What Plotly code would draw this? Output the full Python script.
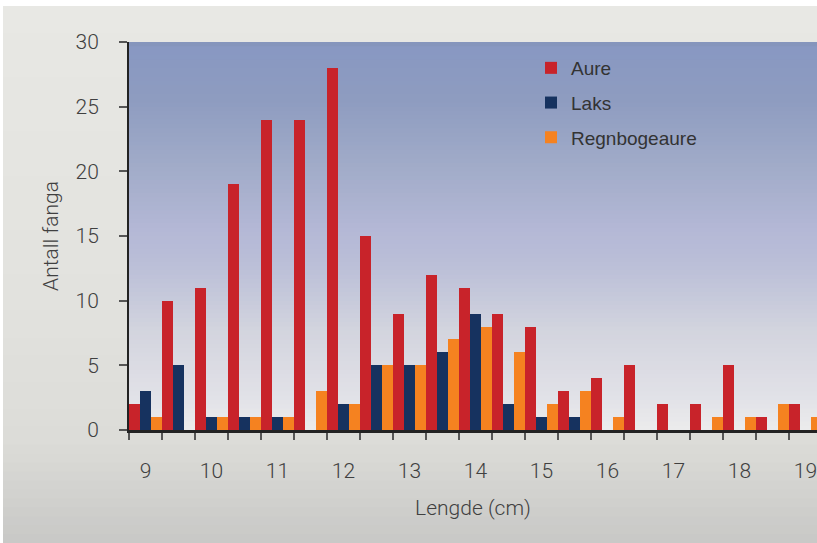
import plotly.graph_objects as go

# ---- data ----
lengths = [9, 9.5, 10, 10.5, 11, 11.5, 12, 12.5, 13, 13.5, 14, 14.5, 15, 15.5,
           16, 16.5, 17, 17.5, 18, 18.5, 19]
aure = [2, 10, 11, 19, 24, 24, 28, 15, 9, 12, 11, 9, 8, 3, 4, 5, 2, 2, 5, 1, 2]
laks = [3, 5, 1, 1, 1, 0, 2, 5, 5, 6, 9, 2, 1, 1, 0, 0, 0, 0, 0, 0, 0]
regnbogeaure = [1, 0, 1, 1, 1, 3, 2, 5, 5, 7, 8, 6, 2, 3, 1, 0, 0, 1, 1, 2, 1]
tick_labels = ["9", "10", "11", "12", "13", "14", "15", "16", "17", "18", "19"]
tick_positions = [9, 10, 11, 12, 13, 14, 15, 16, 17, 18, 19]

W, H = 817, 543
L, T, B = 129, 42, 113
PW, PH = W - L, H - T - B


def px_x(p):
    return (p - L) / PW


def px_y(p):
    return (H - B - p) / PH


def hex2rgb(h):
    h = h.lstrip("#")
    return tuple(int(h[i:i + 2], 16) for i in (0, 2, 4))


def interp(stops, p):
    for (p0, c0), (p1, c1) in zip(stops, stops[1:]):
        if p0 <= p <= p1:
            t = (p - p0) / (p1 - p0) if p1 > p0 else 0
            a, b = hex2rgb(c0), hex2rgb(c1)
            return "rgb(%d,%d,%d)" % tuple(round(a[i] + (b[i] - a[i]) * t) for i in range(3))
    return stops[-1][1]


shapes = []
# outer paper gradient (each band runs to the bottom; later bands cover earlier ones -> no seams)
paper_stops = [(6, "#e8e8e4"), (300, "#e2e2de"), (440, "#dcdcd8"), (543, "#c8c8c6")]
n = 60
for i in range(n):
    y0 = 6 + (543 - 6) * i / n
    ym = y0 + (543 - 6) / n / 2
    shapes.append(dict(type="rect", xref="paper", yref="paper", layer="below",
                       x0=px_x(3), x1=px_x(W + 2), y0=px_y(H + 2), y1=px_y(y0),
                       line=dict(width=0), fillcolor=interp(paper_stops, ym)))

# plot area gradient
plot_stops = [(42, "#8494b8"), (48, "#8898c2"), (100, "#8e9cc0"), (170, "#a2acc9"),
              (230, "#b4b8d6"), (270, "#bcc0d8"), (330, "#d2d4de"), (400, "#e2e2e8"),
              (430, "#ececec")]
n = 90
for i in range(n):
    y0 = 42 + (430 - 42) * i / n
    ym = y0 + (430 - 42) / n / 2
    shapes.append(dict(type="rect", xref="paper", yref="paper", layer="below",
                       x0=0, x1=1.01, y0=0, y1=px_y(y0),
                       line=dict(width=0), fillcolor=interp(plot_stops, ym)))

fig = go.Figure()
fig.add_trace(go.Bar(x=lengths, y=aure, name="Aure", marker=dict(color="#c8232a", line=dict(width=0)),
                     legendgroup="a"))
fig.add_trace(go.Bar(x=lengths, y=laks, name="Laks", marker=dict(color="#16325f", line=dict(width=0)),
                     legendgroup="b"))
fig.add_trace(go.Bar(x=lengths, y=regnbogeaure, name="Regnbogeaure",
                     marker=dict(color="#f58220", line=dict(width=0)), legendgroup="c"))

axis_font = dict(family="Roboto", size=21, color="#404040", weight=300)

fig.update_layout(
    width=W, height=H,
    margin=dict(l=L, r=0, t=T, b=B, pad=0),
    paper_bgcolor="white",
    plot_bgcolor="rgba(0,0,0,0)",
    barmode="group", bargap=0, bargroupgap=0,
    shapes=shapes,
    showlegend=True,
    legend=dict(x=px_x(531), y=px_y(49), xanchor="left", yanchor="top",
                bgcolor="rgba(0,0,0,0)", tracegroupgap=7,
                font=dict(family="Liberation Sans", size=19, color="#333333")),
    xaxis=dict(
        range=[8.75, 8.75 + PW / 66.0],
        tickmode="array", tickvals=tick_positions, ticktext=tick_labels,
        ticks="", showgrid=False, zeroline=False, ticklabeloverflow="allow",
        showline=True, linecolor="#222222", linewidth=3,
        tickfont=axis_font, ticklabelstandoff=20,
        minor=dict(tick0=8.75, dtick=0.5, ticks="outside", ticklen=7, tickwidth=1.5,
                   tickcolor="#555555", showgrid=False),
        title=dict(text="Lengde (cm)", font=dict(family="Roboto", size=21, color="#404040", weight=300),
                   standoff=19),
    ),
    yaxis=dict(
        range=[0, 30], tickmode="linear", tick0=0, dtick=5,
        ticks="outside", ticklen=8, tickwidth=1.5, tickcolor="#555555",
        showgrid=False, zeroline=False,
        showline=True, linecolor="#222222", linewidth=2,
        tickfont=axis_font, ticklabelstandoff=16,
        title=dict(text="Antall fanga", font=dict(family="Roboto", size=21, color="#404040", weight=300),
                   standoff=11),
    ),
)

fig.write_html("out.html", config={"displayModeBar": False},
               post_script="document.body.style.margin='0';document.body.style.overflow='hidden';")
